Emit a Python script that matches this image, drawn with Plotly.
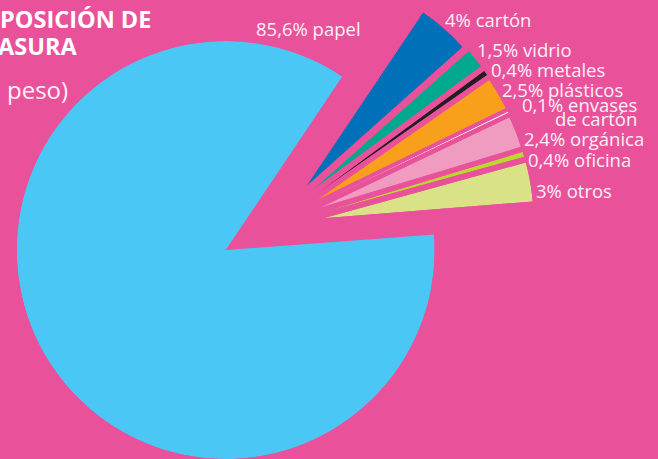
import math
import plotly.graph_objects as go

# ---------------- data ----------------
categories = ["papel", "cartón", "vidrio", "metales", "plásticos",
              "envases de cartón", "orgánica", "oficina", "otros"]
values = [85.6, 4, 1.5, 0.4, 2.5, 0.1, 2.4, 0.4, 3]
label_lines = [["85,6% papel"], ["4% cartón"], ["1,5% vidrio"], ["0,4% metales"],
               ["2,5% plásticos"], ["0,1% envases", "de cartón"], ["2,4% orgánica"],
               ["0,4% oficina"], ["3% otros"]]
title_lines = ["POSICIÓN DE", "ASURA"]
subtitle = "peso)"

# ---------------- layout / style ----------------
W, H = 658, 459
BG = "#E9529B"
TXT = "#FDF0F6"
COLORS = ["#4AC7F4", "#0070B9", "#00A88E", "#231F20", "#F8A01C",
          "#FFFFFF", "#F09BC0", "#BED630", "#D9E287"]
START_ANGLE = 56.1          # degrees (math convention) where papel ends / cartón starts
PIE_CX, PIE_CY = 225.7, 253.3
PIE_R = 209
SLICE_R = 210
PULL_DIST = [0, 104.3, 106.6, 106.6, 105.7, 106.0, 104.7, 104.2, 103.7]
PULL_DIR = [0, 39.7, 36.0, 33.1, 30.3, 28.3, 25.8, 22.9, 19.7]
# label placement: (x px, y px of cap middle, anchor)
LABEL_POS = [[(257, 29.3, "left")], [(446, 20, "left")], [(478, 50.3, "left")],
             [(492, 70, "left")], [(503, 90.3, "left")],
             [(636, 105, "right"), (636, 119, "right")],
             [(525, 139, "left")], [(529, 159.7, "left")], [(537, 191, "left")]]
LABEL_SIZE = 18.5
TITLE_SIZE = 23.5


def xf(px):
    return px / W


def yf(py):
    return 1 - py / H


fig = go.Figure()
layout_polars = {}

deg_per_unit = 360.0 / 100.0

# papel (main slice), counter-clockwise from START_ANGLE
span0 = values[0] * deg_per_unit
r0 = min(PIE_R, H / 2)
cy0 = min(max(PIE_CY, r0), H - r0)
fig.add_trace(go.Barpolar(
    r=[1], theta=[START_ANGLE + span0 / 2], width=[span0],
    marker=dict(color=COLORS[0], line=dict(width=0)),
    subplot="polar", hoverinfo="skip", showlegend=False, name=categories[0]))
layout_polars["polar"] = dict(
    domain=dict(x=[xf(PIE_CX - r0), xf(PIE_CX + r0)], y=[yf(cy0 + r0), yf(cy0 - r0)]),
)

# remaining slices, clockwise from START_ANGLE, each pulled out
acc = 0.0
for i in range(1, len(values)):
    hi = START_ANGLE - acc * deg_per_unit
    lo = hi - values[i] * deg_per_unit
    acc += values[i]
    ax = PIE_CX + PULL_DIST[i] * math.cos(math.radians(PULL_DIR[i]))
    ay = PIE_CY - PULL_DIST[i] * math.sin(math.radians(PULL_DIR[i]))
    right = ax + SLICE_R * math.cos(math.radians(lo))
    top = ay - SLICE_R * math.sin(math.radians(hi))
    name = "polar%d" % (i + 1)
    fig.add_trace(go.Barpolar(
        r=[1], theta=[(hi + lo) / 2], width=[hi - lo],
        marker=dict(color=COLORS[i], line=dict(width=0)),
        subplot=name, hoverinfo="skip", showlegend=False, name=categories[i]))
    layout_polars[name] = dict(
        domain=dict(x=[xf(ax), xf(right)], y=[yf(ay), yf(top)]),
        sector=[lo, hi],
    )

for k, v in layout_polars.items():
    v.update(
        bgcolor="rgba(0,0,0,0)",
        angularaxis=dict(visible=False, showgrid=False, showline=False, ticks=""),
        radialaxis=dict(visible=False, range=[0, 1], showgrid=False, showline=False, ticks=""),
        hole=0,
    )

annotations = []
for lines, poss in zip(label_lines, LABEL_POS):
    for text, (px, py, anc) in zip(lines, poss):
        annotations.append(dict(
            text=text, x=xf(px - 3 if anc == "left" else px + 3), y=yf(py - 0.6),
            xref="paper", yref="paper", xanchor=anc, yanchor="middle",
            showarrow=False, font=dict(family="Open Sans", size=LABEL_SIZE, color=TXT)))

title_pos = [(-2, 18.5), (-4, 46)]
for text, (px, py) in zip(title_lines, title_pos):
    annotations.append(dict(
        text="<b>%s</b>" % text, x=xf(px), y=yf(py), xref="paper", yref="paper",
        xanchor="left", yanchor="middle", showarrow=False,
        font=dict(family="Open Sans", size=TITLE_SIZE, color="white")))
annotations.append(dict(
    text=subtitle, x=xf(5), y=yf(90), xref="paper", yref="paper",
    xanchor="left", yanchor="middle", showarrow=False,
    font=dict(family="Open Sans", size=24, color=TXT)))

fig.update_layout(
    width=W, height=H, margin=dict(l=0, r=0, t=0, b=0, pad=0),
    paper_bgcolor=BG, plot_bgcolor=BG, template="none",
    showlegend=False, annotations=annotations, **layout_polars)

fig.write_html(
    "out.html",
    config={"displayModeBar": False},
    post_script="document.body.style.margin='0px';document.body.style.overflow='hidden';")
